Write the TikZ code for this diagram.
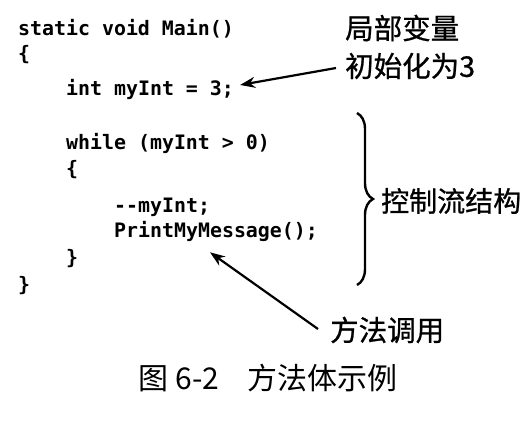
\documentclass[tikz,border=0pt]{standalone}
\usepackage{fontspec}
\newfontfamily\codefont{DejaVu Sans Mono}
\newfontfamily\cjkfont{Noto Sans CJK SC}
\newfontfamily\cjklabfont{Noto Sans CJK SC}[FakeBold=0.8]
\usetikzlibrary{arrows.meta,decorations.pathreplacing}
\begin{document}
\begin{tikzpicture}[x=1pt,y=-1pt,
  code/.style={anchor=base west, inner sep=0pt, font=\codefont\bfseries\fontsize{19.9}{24}\selectfont},
  lab/.style={anchor=west, inner sep=0pt, font=\cjklabfont\fontsize{28.5}{34}\selectfont},
  arr/.style={-{Stealth[length=15pt,width=11pt]}, line width=2.2pt},
  bracestyle/.style={decorate, decoration={brace, amplitude=16pt}, line width=2.4pt}]
\useasboundingbox[fill=white] (0,0) rectangle (532,424);
% code lines
\node[code] (l1) at (18,35) {static void Main()};
\node[code] (l2) at (18,60) {\{};
\node[code] (l3) at (66,95) {int myInt = 3;};
\node[code] (l4) at (66,149) {while (myInt > 0)};
\node[code] (l5) at (66,175) {\{};
\node[code] (l6) at (114,212) {-{}-myInt;};
\node[code] (l7) at (114,237) {PrintMyMessage();};
\node[code] (l8) at (66,264) {\}};
\node[code] (l9) at (18,291) {\}};
% annotations
\node[lab] (ann1) at (345,28) {局部变量};
\node[lab] (ann2) at (345,66) {初始化为3};
\node[lab, font=\cjklabfont\fontsize{28}{34}\selectfont] (ann3) at (381,201) {控制流结构};
\node[lab] (ann4) at (330,330) {方法调用};
\node[inner sep=0pt, font=\cjkfont\fontsize{30}{36}\selectfont] (cap) at (268,378) {图 6-2\hspace{28pt}方法体示例};
% connectors
\draw[arr] ([shift={(-9,2)}]ann2.west) -- ([shift={(6,-4)}]l3.east);
\draw[arr] ([shift={(-12,-1)}]ann4.west) -- ([shift={(-6,11)}]l7.south);
% brace
\coordinate (btop) at (357,113);
\coordinate (bbot) at (357,285);
\draw[bracestyle] (btop) -- (bbot);
\end{tikzpicture}
\end{document}
